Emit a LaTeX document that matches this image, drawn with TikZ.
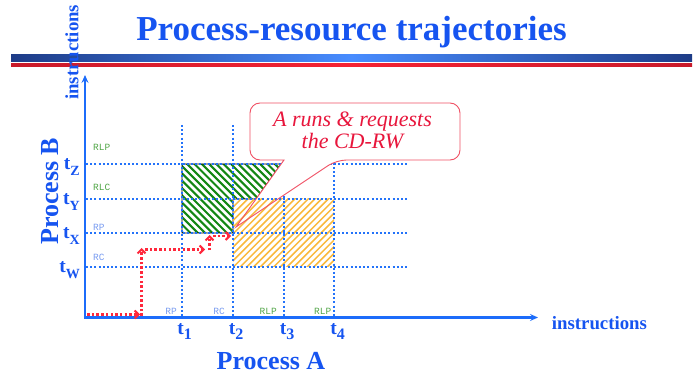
\documentclass[tikz,border=0pt]{standalone}
\usepackage{fontspec}
\setmainfont{Liberation Serif}
\newfontfamily\lmono{Liberation Mono}
\usetikzlibrary{arrows.meta}
\definecolor{titleblue}{RGB}{22,84,240}
\definecolor{axisblue}{RGB}{28,108,250}
\definecolor{gridblue}{RGB}{35,115,250}
\definecolor{trajred}{RGB}{255,40,60}
\definecolor{calloutred}{RGB}{232,22,60}
\definecolor{calloutline}{RGB}{240,80,100}
\definecolor{hatchgreen}{RGB}{20,135,20}
\definecolor{hatchorange}{RGB}{250,185,60}
\definecolor{lblgreen}{RGB}{80,165,70}
\definecolor{lblblue}{RGB}{120,155,240}
\definecolor{barnavy}{RGB}{30,60,135}
\definecolor{barlight}{RGB}{72,140,255}
\definecolor{bardarkred}{RGB}{200,26,42}
\definecolor{barbrightred}{RGB}{245,35,52}
\newcommand\tlab[3]{t\raisebox{-#3pt}{\fontsize{#2}{#2}\selectfont #1}}
\begin{document}
\begin{tikzpicture}[x=1pt,y=-1pt,
  gridline/.style={gridblue,line width=2pt,dash pattern=on 2pt off 2.2pt},
  axisline/.style={axisblue,line width=2.4pt,-{Stealth[length=8pt,width=7pt,inset=3pt]}},
  traj/.style={trajred,line width=2.5pt,dash pattern=on 2.5pt off 2.2pt,-{Straight Barb[length=4pt,width=8pt,line width=2pt]}},
  smalllbl/.style={font=\lmono\fontsize{9.5}{10}\selectfont,inner sep=0pt},
  tlbl/.style={titleblue,font=\bfseries\fontsize{19.5}{20}\selectfont,inner sep=0pt},
  bluetext/.style={titleblue,inner sep=0pt},
  greenhatch/.style={hatchgreen,line width=2.1pt},
  orangehatch/.style={hatchorange,line width=1.5pt},
  calloutshape/.style={calloutline,line width=0.9pt}
]
\useasboundingbox (0,0) rectangle (694,382);
% header bars
\shade[left color=barnavy,right color=barnavy,middle color=barlight] (11,55) rectangle (692,62);
\shade[left color=bardarkred,right color=bardarkred,middle color=barbrightred] (11,64) rectangle (692,67);
% title
\node[bluetext,font=\bfseries\fontsize{35}{40}\selectfont,anchor=base] (title) at (351.5,41) {Process-resource trajectories};

% key coordinates
\coordinate (tip) at (236,227);
\coordinate (jl) at (284,160);
\coordinate (jr) at (336.5,160);

% green hatched region
\begin{scope}
  \clip (182,164) -- (281.1,164) -- (256.1,199) -- (233,199) -- (233,233) -- (182,233) -- cycle;
  \foreach \c in {-140,-132.7,...,70} \draw[greenhatch] (150,{150+\c}) -- (320,{320+\c});
\end{scope}
\draw[black,line width=0.7pt] (182,164) -- (281.1,164) -- (256.1,199) -- (233,199) -- (233,233) -- (182,233) -- cycle;

% grid
\foreach \x in {182,233,284,334} \draw[gridline] (\x,125) -- (\x,317);
\foreach \y in {164,199,233,267} \draw[gridline] (86,\y) -- (408,\y);

% callout fill
\path[fill=white] (jl) [rounded corners=10pt] -- (250,160) -- (250,103) -- (460,103) -- (460,160) -- (jr) [sharp corners] -- (tip) -- cycle;

% orange hatched region
\begin{scope}
  \clip (233,199) rectangle (334,267);
  \foreach \c in {420,426.7,...,620} \draw[orangehatch] (200,{\c-200}) -- (370,{\c-370});
\end{scope}
\begin{scope}
  \clip (231.5,197.5) rectangle (335.5,268.5);
  \foreach \x in {182,233,284,334} \draw[gridline] (\x,125) -- (\x,317);
  \foreach \y in {164,199,233,267} \draw[gridline] (86,\y) -- (408,\y);
\end{scope}

% callout outline and text
\draw[calloutshape] (jl) [rounded corners=10pt] -- (250,160) -- (250,103) -- (460,103) -- (460,160) -- (jr) [sharp corners] -- (tip) -- cycle;
\node[calloutred,font=\rmfamily\itshape\fontsize{22}{21.6}\selectfont,align=center,inner sep=0pt] (ctext) at (352.5,130.3) {A runs \& requests\\the CD-RW};

% axes
\coordinate (origin) at (85,317.5);
\coordinate (ytop) at (85,75);
\coordinate (xend) at (538,317.5);
\draw[axisline] (85,319) -- (ytop);
\draw[axisline] (83.8,317.5) -- (xend);
\node[bluetext,font=\bfseries\fontsize{18.8}{20}\selectfont,rotate=90,anchor=base west] (ylab) at (78.3,100) {instructions};
\node[bluetext,font=\bfseries\fontsize{18.8}{20}\selectfont,anchor=base west] (xlab) at (551.7,329.3) {instructions};
\node[bluetext,font=\bfseries\fontsize{26}{28}\selectfont,rotate=90,anchor=base west] (procB) at (58.3,245) {Process B};
\node[bluetext,font=\bfseries\fontsize{26}{28}\selectfont,anchor=base] (procA) at (271,369.5) {Process A};

% t labels
\node[tlbl,anchor=base east] (tZ) at (80,169.3) {\tlab{Z}{14}{6.7}};
\node[tlbl,anchor=base east] (tY) at (80,204.3) {\tlab{Y}{14}{6.7}};
\node[tlbl,anchor=base east] (tX) at (80,238.3) {\tlab{X}{14}{6.7}};
\node[tlbl,anchor=base east] (tW) at (80,272.3) {\tlab{W}{14}{6.7}};
\node[tlbl,anchor=base west] (t1) at (177.1,334.7) {\tlab{1}{16}{5}};
\node[tlbl,anchor=base west] (t2) at (228.6,334.7) {\tlab{2}{16}{5}};
\node[tlbl,anchor=base west] (t3) at (279.6,334.7) {\tlab{3}{16}{5}};
\node[tlbl,anchor=base west] (t4) at (330.1,334.7) {\tlab{4}{16}{5}};

% small resource labels
\node[smalllbl,lblgreen,anchor=west] (yrlp) at (93,147.5) {RLP};
\node[smalllbl,lblgreen,anchor=west] (yrlc) at (93,187.5) {RLC};
\node[smalllbl,lblblue,anchor=west] (yrp) at (93,227.5) {RP};
\node[smalllbl,lblblue,anchor=west] (yrc) at (93,257.5) {RC};
\node[smalllbl,lblblue,anchor=east] (xrp) at (177,311) {RP};
\node[smalllbl,lblblue,anchor=east] (xrc) at (225,311) {RC};
\node[smalllbl,lblgreen,anchor=east] (xrlp1) at (277,311) {RLP};
\node[smalllbl,lblgreen,anchor=east] (xrlp2) at (331.5,311) {RLP};

% trajectory
\coordinate (r0) at (87,314.5);
\coordinate (r1) at (140,314.5);
\coordinate (r2) at (141.5,316);
\coordinate (r3) at (141.5,248);
\coordinate (r4) at (145,249.5);
\coordinate (r5) at (205,249.5);
\coordinate (r6) at (209.5,250.5);
\coordinate (r7) at (209.5,235);
\coordinate (r8) at (213,236);
\coordinate (r9) at (231,236);
\draw[traj] (r0) -- (r1);
\draw[traj] (r2) -- (r3);
\draw[traj] (r4) -- (r5);
\draw[traj] (r6) -- (r7);
\draw[traj] (r8) -- (r9);
\end{tikzpicture}
\end{document}
